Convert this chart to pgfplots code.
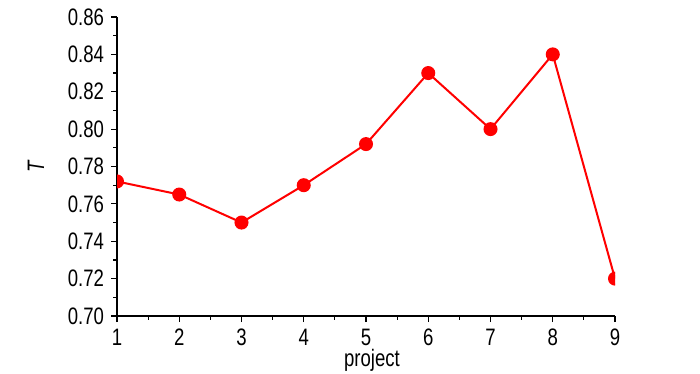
\documentclass[border=0pt]{standalone}
\usepackage{pgfplots}
\pgfplotsset{compat=1.18}
\usepackage{fontspec}
\setmainfont{Liberation Sans}
\newfontfamily\narrow[FakeStretch=0.78]{Liberation Sans}
\begin{document}
\begin{tikzpicture}[x=1pt,y=1pt]
\useasboundingbox (0,0) rectangle (350,187);
\begin{axis}[
  at={(58.5pt,29pt)}, anchor=south west,
  scale only axis, width=249pt, height=149.5pt,
  xmin=1, xmax=9, ymin=0.70, ymax=0.86,
  axis x line*=bottom, axis y line*=left,
  axis line style={line width=0.6pt},
  xtick={1,...,9}, minor x tick num=1,
  ytick={0.70,0.72,...,0.86}, minor y tick num=1,
  tick align=outside, tick style={black, line width=0.6pt},
  major tick length=3pt, minor tick length=1.8pt,
  yticklabel style={/pgf/number format/.cd, fixed, fixed zerofill, precision=2},
  /pgf/number format/assume math mode=true,
  ticklabel style={font=\narrow\fontsize{11.9}{12}\selectfont},
  xlabel={project}, ylabel={\textit{T}},
  xlabel style={font=\narrow\fontsize{11.9}{12}\selectfont, at={(axis description cs:0.512,-0.168)}, anchor=base},
  ylabel style={font=\narrow\fontsize{11.9}{12}\selectfont, at={(axis description cs:-0.163,0.5)}, anchor=center},
  clip marker paths=true,
]
\addplot[red, line width=1pt, mark=*, mark options={fill=red, draw=red}, mark size=3pt]
coordinates {(1,0.772) (2,0.765) (3,0.750) (4,0.770) (5,0.792) (6,0.830) (7,0.800) (8,0.840) (9,0.720)};
\end{axis}
\end{tikzpicture}
\end{document}
